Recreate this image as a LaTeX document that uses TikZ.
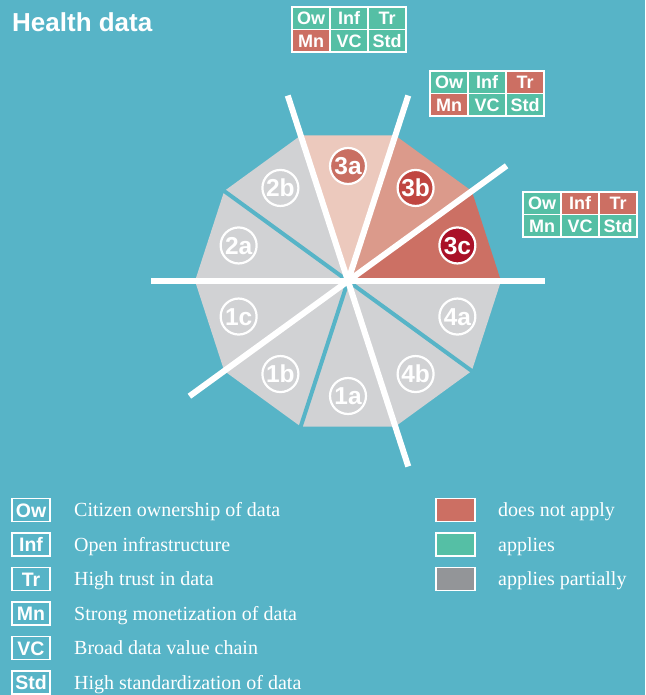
\documentclass[tikz,border=0pt]{standalone}
\usepackage{fontspec}
\setmainfont{Liberation Serif}
\setsansfont{Liberation Sans}
\usetikzlibrary{positioning}

\definecolor{sea}{HTML}{57B4C7}
\definecolor{appl}{HTML}{55BFA5}
\definecolor{nappl}{HTML}{CC6F63}
\definecolor{partial}{HTML}{939598}
\definecolor{wedge}{HTML}{D1D2D4}
\definecolor{roseA}{HTML}{ECC9BD}
\definecolor{roseB}{HTML}{DB9A8B}
\definecolor{roseC}{HTML}{CC7064}
\definecolor{dotA}{HTML}{C96F62}
\definecolor{dotB}{HTML}{C04641}
\definecolor{dotC}{HTML}{AA1128}

% one small table of the six factors, #1 name, #2 top left corner, #3 label/colour list
\newcommand{\factors}[3]{%
  \begin{scope}[shift={#2}]
  \foreach \lab/\col [count=\i from 0] in {#3} {
    \pgfmathtruncatemacro{\rw}{\i/3}
    \pgfmathtruncatemacro{\cl}{\i-3*\rw}
    \node[cell, fill=\col] (#1-\lab) at (19+38*\cl, -11.25-22.5*\rw) {\lab};
  }
  \end{scope}}

\begin{document}
\begin{tikzpicture}[x=1pt, y=1pt,
  cell/.style={draw=white, line width=1.4pt, minimum width=38pt, minimum height=22.5pt,
    inner sep=0pt, outer sep=0pt, text=white, text height=13pt, text depth=0pt,
    font=\sffamily\bfseries\fontsize{18}{18}\selectfont},
  seg/.style={circle, draw=white, line width=2.2pt, minimum size=36pt, inner sep=0pt,
    text=white, text height=17.5pt, text depth=0pt,
    font=\sffamily\bfseries\fontsize{24.5}{24.5}\selectfont},
  cut/.style={white, line width=6pt},
  gap/.style={sea, line width=4pt},
  keybox/.style={draw=white, line width=1.8pt, minimum width=38pt, minimum height=23pt,
    inner sep=0pt, outer sep=0pt, text=white, text height=14pt, text depth=0pt,
    font=\sffamily\bfseries\fontsize{19.5}{19.5}\selectfont},
  swatch/.style={draw=white, line width=1.2pt, minimum width=39pt, minimum height=23pt,
    inner sep=0pt, outer sep=0pt},
  keytext/.style={anchor=west, inner sep=0pt, text=white, text height=13.2pt, text depth=0pt,
    font=\fontsize{20}{20}\selectfont}]

\fill[sea] (0,0) rectangle (645,-695);
\useasboundingbox (0,0) rectangle (645,-695);

\node[anchor=base west, inner sep=0pt, text=white,
  font=\sffamily\bfseries\fontsize{26}{26}\selectfont] (title) at (12,-32) {Health data};

% the ten segments
\coordinate (O) at (348,-281);
\begin{scope}[shift={(O)}]
\foreach \a/\c in {0/roseC, 36/roseB, 72/roseA, 108/wedge, 144/wedge,
                   180/wedge, 216/wedge, 252/wedge, 288/wedge, 324/wedge}
  \fill[\c] (0,0) -- (\a:153) -- (\a+36:153) -- cycle;

\foreach \a in {144, 252, 324}
  \draw[gap] (0,0) -- (\a:156);

\draw[cut] (180:197) -- (0:197);
\draw[cut] (108:195) -- (288:195);
\draw[cut] (216:196) -- (36:196);
\draw[cut] (0,0) -- (72:195);

\foreach \lab/\a/\c in {3c/18/dotC, 3b/54/dotB, 3a/90/dotA, 2b/126/wedge, 2a/162/wedge,
                        1c/198/wedge, 1b/234/wedge, 1a/270/wedge, 4b/306/wedge, 4a/342/wedge}
  \node[seg, fill=\c] (s\lab) at (\a:115) {\lab};
\end{scope}

% factor tables
\factors{ta}{(292,-7)}{Ow/appl, Inf/appl, Tr/appl, Mn/nappl, VC/appl, Std/appl}
\factors{tb}{(430,-71)}{Ow/appl, Inf/appl, Tr/nappl, Mn/nappl, VC/appl, Std/appl}
\factors{tc}{(523,-192)}{Ow/appl, Inf/nappl, Tr/nappl, Mn/appl, VC/appl, Std/appl}

% legend
\node[keybox] (kOw) at (31,-510) {Ow};
\node[keybox, below=11.5pt of kOw] (kInf) {Inf};
\node[keybox, below=11.5pt of kInf] (kTr) {Tr};
\node[keybox, below=11.5pt of kTr] (kMn) {Mn};
\node[keybox, below=11.5pt of kMn] (kVC) {VC};
\node[keybox, below=11.5pt of kVC] (kStd) {Std};

\node[keytext, right=24pt of kOw] (lOw) {Citizen ownership of data};
\node[keytext, right=24pt of kInf] (lInf) {Open infrastructure};
\node[keytext, right=24pt of kTr] (lTr) {High trust in data};
\node[keytext, right=24pt of kMn] (lMn) {Strong monetization of data};
\node[keytext, right=24pt of kVC] (lVC) {Broad data value chain};
\node[keytext, right=24pt of kStd] (lStd) {High standardization of data};

\node[swatch, fill=nappl] (cNo) at (455.5,-510) {};
\node[swatch, fill=appl, below=11.5pt of cNo] (cYes) {};
\node[swatch, fill=partial, below=11.5pt of cYes] (cPart) {};

\node[keytext, right=23pt of cNo] (lNo) {does not apply};
\node[keytext, right=23pt of cYes] (lYes) {applies};
\node[keytext, right=23pt of cPart] (lPart) {applies partially};
\end{tikzpicture}
\end{document}
